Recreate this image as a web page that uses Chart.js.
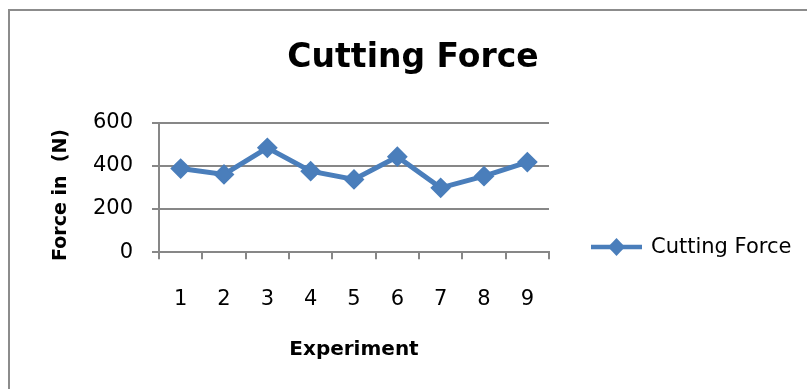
<!DOCTYPE html>
<html>
<head>
<meta charset="utf-8">
<script src="https://cdn.jsdelivr.net/npm/chart.js@4/dist/chart.umd.min.js"></script>
<style>
  html, body { margin: 0; padding: 0; background: #ffffff; }
  #wrap { width: 807px; height: 389px; position: relative; }
</style>
</head>
<body>
<div id="wrap"><canvas id="chart" width="807" height="389"></canvas></div>
<script>
// Experiment numbers along the x axis
const experiments = ['1', '2', '3', '4', '5', '6', '7', '8', '9'];
// Measured cutting force per experiment, in newtons
const cuttingForce = [387, 360, 483, 375, 337, 442, 298, 352, 417];
// Value axis ticks
const forceTicks = [0, 200, 400, 600];

const chartTitle = 'Cutting Force';
const seriesName = 'Cutting Force';
const xTitle = 'Experiment';
const yTitle = 'Force in  (N)';

const BLUE = '#4A7EBB';
const GRID = '#878787';
const FONT = '"DejaVu Sans", sans-serif';

// Frame, heading, rotated value-axis title and the line-with-diamond legend entry
const decor = {
  id: 'decor',
  beforeDraw(chart) {
    const ctx = chart.ctx;
    ctx.save();
    ctx.fillStyle = '#ffffff';
    ctx.fillRect(0, 0, chart.width, chart.height);
    ctx.strokeStyle = '#8c8c8c';
    ctx.lineWidth = 2;
    ctx.strokeRect(9, 10, chart.width + 20, chart.height + 20);
    ctx.restore();
  },
  afterDraw(chart) {
    const ctx = chart.ctx;
    ctx.save();
    ctx.fillStyle = '#000000';
    ctx.textAlign = 'center';
    ctx.textBaseline = 'alphabetic';
    ctx.font = 'bold 33px ' + FONT;
    ctx.fillText(chartTitle, 413, 67);

    // value-axis title, reading bottom to top
    ctx.save();
    ctx.translate(61, 195);
    ctx.rotate(-Math.PI / 2);
    ctx.textAlign = 'center';
    ctx.textBaseline = 'middle';
    ctx.font = 'bold 19px ' + FONT;
    ctx.fillText(yTitle, 0, 0);
    ctx.restore();

    const ds = chart.data.datasets[0];
    const ly = 247;
    ctx.strokeStyle = ds.borderColor;
    ctx.lineWidth = 4.5;
    ctx.beginPath();
    ctx.moveTo(591, ly);
    ctx.lineTo(642, ly);
    ctx.stroke();
    ctx.fillStyle = ds.pointBackgroundColor;
    ctx.beginPath();
    ctx.moveTo(616.5, ly - 9);
    ctx.lineTo(625, ly);
    ctx.lineTo(616.5, ly + 9);
    ctx.lineTo(608, ly);
    ctx.closePath();
    ctx.fill();

    ctx.fillStyle = '#000000';
    ctx.textAlign = 'left';
    ctx.textBaseline = 'alphabetic';
    ctx.font = '21px ' + FONT;
    ctx.fillText(ds.label, 651, 253);
    ctx.restore();
  }
};

new Chart(document.getElementById('chart'), {
  type: 'line',
  data: {
    labels: experiments,
    datasets: [{
      label: seriesName,
      data: cuttingForce,
      borderColor: BLUE,
      backgroundColor: BLUE,
      borderWidth: 5,
      tension: 0,
      pointStyle: 'rectRot',
      pointRadius: 9,
      pointHoverRadius: 9,
      pointBackgroundColor: BLUE,
      pointBorderColor: BLUE,
      pointBorderWidth: 2
    }]
  },
  options: {
    responsive: false,
    animation: false,
    events: [],
    layout: { padding: { left: 40, right: 258, top: 122.5, bottom: 0 } },
    plugins: {
      legend: { display: false },
      title: { display: false },
      tooltip: { enabled: false }
    },
    scales: {
      x: {
        type: 'category',
        offset: true,
        grid: {
          offset: true,
          drawOnChartArea: false,
          drawTicks: true,
          tickLength: 7,
          color: GRID,
          lineWidth: 2
        },
        border: { display: true, color: GRID, width: 2 },
        ticks: {
          color: '#000000',
          font: { family: FONT, size: 21 },
          padding: 28,
          maxRotation: 0,
          autoSkip: false
        },
        title: {
          display: true,
          text: xTitle,
          color: '#000000',
          font: { family: FONT, size: 20, weight: 'bold' },
          padding: { top: 0, bottom: 27 }
        },
        afterFit(scale) { scale.height = 389 - 252.3; }
      },
      y: {
        min: 0,
        max: 600,
        afterBuildTicks(scale) { scale.ticks = forceTicks.map(v => ({ value: v })); },
        grid: {
          color: GRID,
          lineWidth: 2,
          drawTicks: true,
          tickLength: 7
        },
        border: { display: true, color: GRID, width: 2 },
        ticks: {
          color: '#000000',
          font: { family: FONT, size: 21 },
          padding: 19
        },
        title: { display: false },
        afterFit(scale) { scale.width = 159 - 40; }
      }
    }
  },
  plugins: [decor]
});
</script>
</body>
</html>
